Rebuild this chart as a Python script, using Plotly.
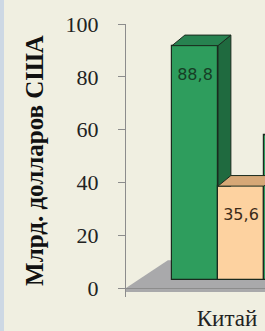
import plotly.graph_objects as go

# ---------------- data ----------------
categories = ["Китай"]
series_names = ["Ряд 1", "Ряд 2", "Ряд 3"]
values = [88.8, 35.6, 55.0]          # values for "Китай", one per series
y_ticks = [0, 20, 40, 60, 80, 100]
y_title = "Млрд. долларов США"

# ---------------- style ----------------
W, H = 265, 331
M_L, M_R, M_T, M_B = 126, 0, 24, 34
BG = "#F0EFE1"
STRIP = "#CDD8E4"
AXIS_C = "#8C8C8C"
EDGE = "#1A2A1E"
front_colors = ["#2E9D5D", "#FDD2A0", "#2E9D5D"]
side_colors = ["#1F6A3F", "#C8976A", "#1F6A3F"]
top_colors = ["#278250", "#D6A877", "#278250"]
label_colors = ["#163E25", "#3B2A18", "#163E25"]
FLOOR_C = "#A9A9AB"
BASE = 3.0            # front faces stand a little back from the floor edge
DX, DY = 0.28, 4.0    # bar depth (x units, y units)
FLOOR_DX, FLOOR_DY, FLOOR_FRONT = 0.91, 10.5, -1.5
LABEL_DROP = 11.5
BAR_W = 1.0
X_RANGE = [-2.5, -2.5 + (W - M_L - M_R) / 46.0]
Y_RANGE = [-3.4, 100]
SERIF = "Liberation Serif"

n = len(values)
cat_pos = 0.0
centers = [cat_pos + (i - (n - 1) / 2) * BAR_W for i in range(n)]

fig = go.Figure()

# front faces (real bars)
for i in range(n):
    fig.add_trace(go.Bar(
        x=[centers[i]], y=[values[i]], base=[BASE], width=[BAR_W],
        name=series_names[i],
        marker=dict(color=front_colors[i], line=dict(color=EDGE, width=1.2)),
        showlegend=False, hoverinfo="skip"))

# side and top faces
for i in range(n):
    v = values[i]
    xl = centers[i] - BAR_W / 2
    xr = centers[i] + BAR_W / 2
    top = BASE + v
    # side (clipped by the next bar's front face)
    lo = BASE + values[i + 1] if i + 1 < n else BASE
    if lo < top + DY:
        if i + 1 >= n:
            sx = [xr, xr + DX, xr + DX, xr, xr]
            sy = [BASE, BASE + DY, top + DY, top, BASE]
        elif lo <= top:
            sx = [xr, xr + DX, xr + DX, xr, xr]
            sy = [lo, lo, top + DY, top, lo]
        else:
            xs = xr + DX * (lo - top) / DY
            sx = [xs, xr + DX, xr + DX, xs]
            sy = [lo, lo, top + DY, lo]
        fig.add_trace(go.Scatter(
            x=sx, y=sy, mode="lines", fill="toself",
            fillcolor=side_colors[i], line=dict(color=EDGE, width=1),
            showlegend=False, hoverinfo="skip"))
    # top
    fig.add_trace(go.Scatter(
        x=[xl, xr, xr + DX, xl + DX, xl],
        y=[top, top, top + DY, top + DY, top],
        mode="lines", fill="toself",
        fillcolor=top_colors[i], line=dict(color=EDGE, width=1),
        showlegend=False, hoverinfo="skip"))

# value labels (only for bars whose centre is inside the visible range)
for i in range(n):
    if not (X_RANGE[0] < centers[i] < X_RANGE[1]):
        continue
    fig.add_trace(go.Scatter(
        x=[centers[i]], y=[BASE + values[i] - LABEL_DROP],
        mode="text", text=[f"{values[i]:.1f}".replace(".", ",")],
        textfont=dict(family="DejaVu Sans", size=16, color=label_colors[i]),
        showlegend=False, hoverinfo="skip"))

# floor (grey plane under the bars)
fx0 = X_RANGE[0]
fx1 = X_RANGE[1] + 1
floor_path = (f"M {fx0},{FLOOR_FRONT} L {fx0},0 L {fx0 + FLOOR_DX},{FLOOR_DY} "
              f"L {fx1},{FLOOR_DY} L {fx1},{FLOOR_FRONT} Z")
pw = W - M_L - M_R
fig.update_layout(shapes=[
    dict(type="path", path=floor_path, xref="x", yref="y", layer="below",
         fillcolor=FLOOR_C, line=dict(width=0)),
    dict(type="rect", xref="paper", yref="paper",
         x0=-M_L / pw, x1=(4 - M_L) / pw, y0=-1, y1=2,
         fillcolor=STRIP, line=dict(width=0), layer="below"),
])

fig.update_layout(
    width=W, height=H,
    margin=dict(l=M_L, r=M_R, t=M_T, b=M_B, pad=0, autoexpand=False),
    paper_bgcolor=BG, plot_bgcolor=BG,
    showlegend=False,
    bargap=0,
    xaxis=dict(range=X_RANGE, tickvals=[cat_pos], ticktext=categories,
               automargin=False,
               showgrid=False, zeroline=False, showline=False, ticks="",
               ticklabelshift=-14, ticklabelstandoff=5,
               tickfont=dict(family=SERIF, size=23, color="#222222"),
               fixedrange=True),
    yaxis=dict(range=Y_RANGE, tickvals=y_ticks, showgrid=False,
               automargin=False,
               zeroline=True, zerolinecolor=AXIS_C, zerolinewidth=1,
               showline=True, linecolor=AXIS_C, linewidth=1,
               ticks="outside", ticklen=7, tickcolor=AXIS_C,
               ticklabelstandoff=15,
               tickfont=dict(family=SERIF, size=22, color="#222222"),
               title=dict(text="<b>" + y_title + "</b>", standoff=14,
                          font=dict(family=SERIF, size=25, color="#111111")),
               fixedrange=True),
)

fig.write_html(
    "out.html",
    config={"displayModeBar": False},
    post_script="document.body.style.margin='0';"
                "document.body.style.overflow='hidden';"
                "document.body.style.background='" + BG + "';",
)
